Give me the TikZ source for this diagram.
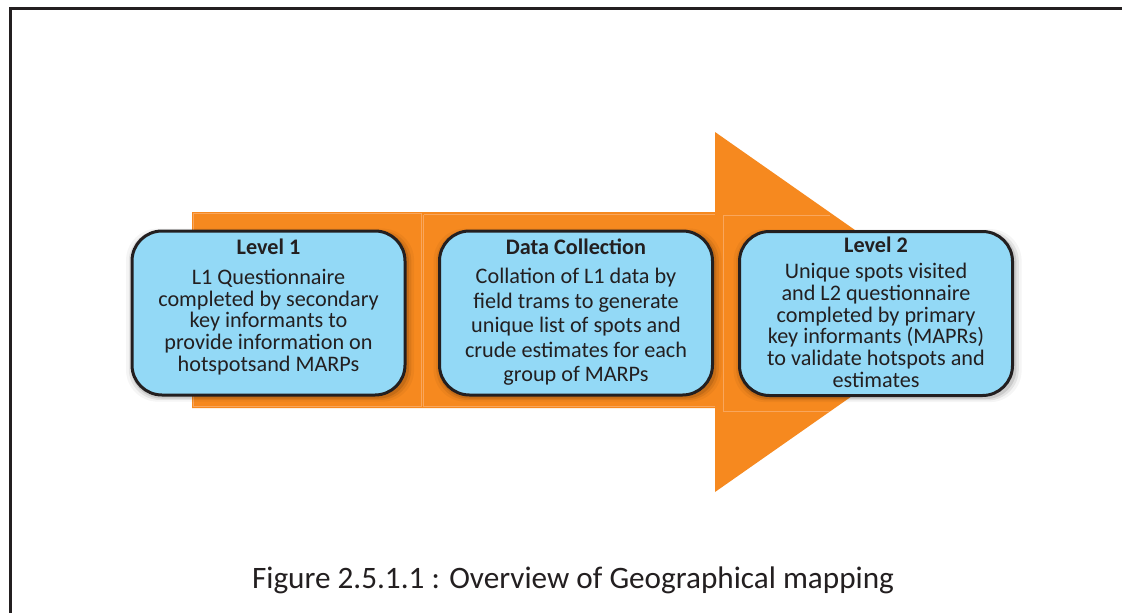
\documentclass[tikz,border=0pt]{standalone}
\usepackage{fontspec}
\setmainfont{Carlito}
\usetikzlibrary{shadows}
\definecolor{arroworange}{HTML}{F6891F}
\definecolor{seam}{HTML}{F9A65C}
\definecolor{boxblue}{HTML}{93D9F6}
\definecolor{inkdark}{HTML}{231F20}
\tikzset{
  stagebox/.style={draw=inkdark, line width=3pt, fill=boxblue, rounded corners=30pt,
    minimum width=273pt, minimum height=164pt, inner sep=0pt,
    general shadow={fill=black, opacity=0.04, shadow xshift=1.5pt, shadow yshift=-2pt, shadow scale=1.055},
    general shadow={fill=black, opacity=0.07, shadow xshift=1.5pt, shadow yshift=-2pt, shadow scale=1.035},
    general shadow={fill=black, opacity=0.10, shadow xshift=1.5pt, shadow yshift=-2pt, shadow scale=1.018}},
  stagetext/.style={align=center, text=inkdark, inner sep=0pt},
  frameline/.style={draw=inkdark, line width=3pt},
  seamline/.style={draw=seam, line width=0.8pt},
}
\begin{document}
\begin{tikzpicture}[x=1pt,y=-1pt]
\useasboundingbox (0,0) rectangle (1122,613);
\fill[white] (0,0) rectangle (1122,613);

% page frame (top and left edges)
\coordinate (frameR) at (1122,8.3);
\coordinate (frameC) at (10.7,8.3);
\coordinate (frameB) at (10.7,613);
\draw[frameline] (frameR) -- (frameC) -- (frameB);

% big orange arrow
\fill[arroworange] (192,212) -- (715,212) -- (715,132) -- (972,312) -- (715,492)
  -- (715,408) -- (192,408) -- cycle;

% faint seams between the shaft segments
\draw[seamline] (193,213.5) rectangle (421.5,406);
\draw[seamline] (423.5,214.5) -- (715,214.5);
\draw[seamline] (423.5,214.5) -- (423.5,406.5) -- (715,406.5);
\draw[seamline] (723,216) -- (723,410.5);
\draw[seamline] (723,215) -- (830,215);
\draw[seamline] (723,411) -- (830,411);

% stage boxes
\node[stagebox] (b1) at (268.5,313) {};
\node[stagebox] (b2) at (576,313) {};
\node[stagebox] (b3) at (876,313.5) {};

\node[stagetext, font=\fontsize{22.2}{21.8}\selectfont] (t1) at ([yshift=6pt]b1.center)
  {\textbf{Level 1}\\[8pt]L1 Questionnaire\\completed by secondary\\key informants to\\provide information on\\hotspotsand MARPs};
\node[stagetext, font=\fontsize{22.2}{24.6}\selectfont] (t2) at ([yshift=0.5pt]b2.center)
  {\textbf{Data Collection}\\[4pt]Collation of L1 data by\\field trams to generate\\unique list of spots and\\crude estimates for each\\group of MARPs};
\node[stagetext, font=\fontsize{22.2}{21.7}\selectfont] (t3) at ([yshift=1.5pt]b3.center)
  {\textbf{Level 2}\\[5pt]Unique spots visited\\and L2 questionnaire\\completed by primary\\key informants (MAPRs)\\to validate hotspots and\\estimates};

% caption
\node[anchor=base, inner sep=0pt, text=inkdark, font=\fontsize{31.2}{36}\selectfont] (cap)
  at (573,588) {Figure 2.5.1.1 : Overview of Geographical mapping};
\end{tikzpicture}
\end{document}
